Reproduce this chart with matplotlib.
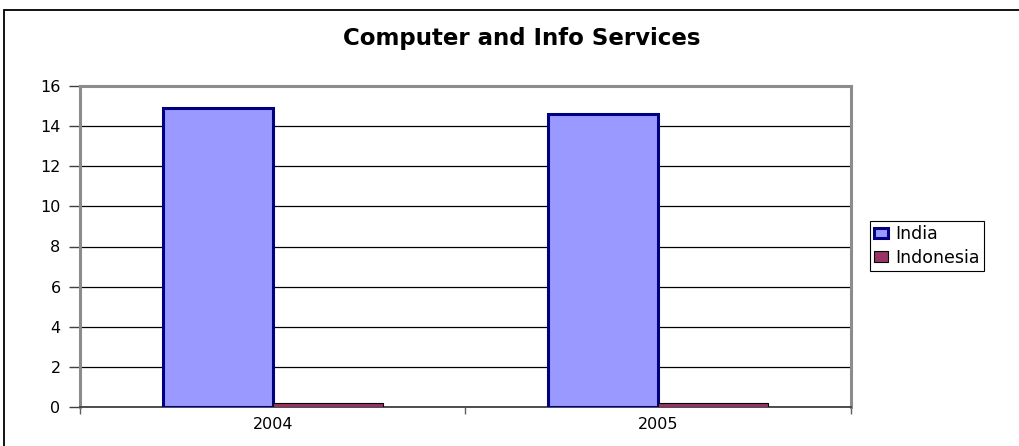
import numpy as np
import matplotlib.pyplot as plt
from matplotlib.patches import Rectangle

# values in billions (read per year)
years = ["2004", "2005"]
india = [14.9, 14.6]
indonesia = [0.2, 0.2]
series_names = ["India", "Indonesia"]

plt.rcParams["font.family"] = ["DejaVu Sans"]

fig = plt.figure(figsize=(10.2, 4.46), dpi=100)
ax = fig.add_axes([80 / 1020, 39 / 446, 771 / 1020, 321 / 446])

x = np.arange(len(years))
width = 0.285

ax.bar(x - width / 2, india, width, color="#9999FF", edgecolor="#000080",
       linewidth=2.2, label=series_names[0], zorder=3)
ax.bar(x + width / 2, indonesia, width, color="#993366", edgecolor="black",
       linewidth=0.8, label=series_names[1], zorder=3)

ax.set_xlim(-0.5, 1.5)
ax.set_ylim(0, 16)
ax.set_yticks(np.arange(0, 17, 2))

# category boundaries get the tick marks, labels sit in the middle
ax.set_xticks([-0.5, 0.5, 1.5])
ax.set_xticklabels([])
ax.set_xticks(x, minor=True)
ax.set_xticklabels(years, minor=True)
ax.tick_params(axis="x", which="major", direction="out", length=5,
               color="#606060", width=1)
ax.tick_params(axis="x", which="minor", length=0, pad=7, labelsize=11.5)
ax.tick_params(axis="y", direction="out", length=8, width=1, color="#404040",
               labelsize=11.5, pad=6)

ax.yaxis.grid(True, color="black", linewidth=0.9, zorder=1)
ax.set_axisbelow(True)

for side in ["left", "top", "right"]:
    ax.spines[side].set_color("#8c8c8c")
    ax.spines[side].set_linewidth(2.2)
ax.spines["bottom"].set_color("#404040")
ax.spines["bottom"].set_linewidth(1.3)

fig.text(522 / 1020, 1 - 39 / 446, "Computer and Info Services",
         ha="center", va="center", fontsize=16.5, fontweight="bold")

leg = fig.legend(loc="upper left", bbox_to_anchor=(870 / 1020, 1 - 221 / 446),
                 fancybox=False, framealpha=1, edgecolor="black",
                 fontsize=12.5, handlelength=0.8, handleheight=0.55,
                 handletextpad=0.4, borderpad=0.25, labelspacing=0.3,
                 borderaxespad=0)
leg.get_frame().set_linewidth(0.8)

# outer chart border
fig.add_artist(Rectangle((4 / 1020, -0.02), 1.0, 1.02 - 10 / 446,
                         transform=fig.transFigure, fill=False,
                         edgecolor="black", linewidth=1.3))

plt.savefig("out.png", dpi=100)
